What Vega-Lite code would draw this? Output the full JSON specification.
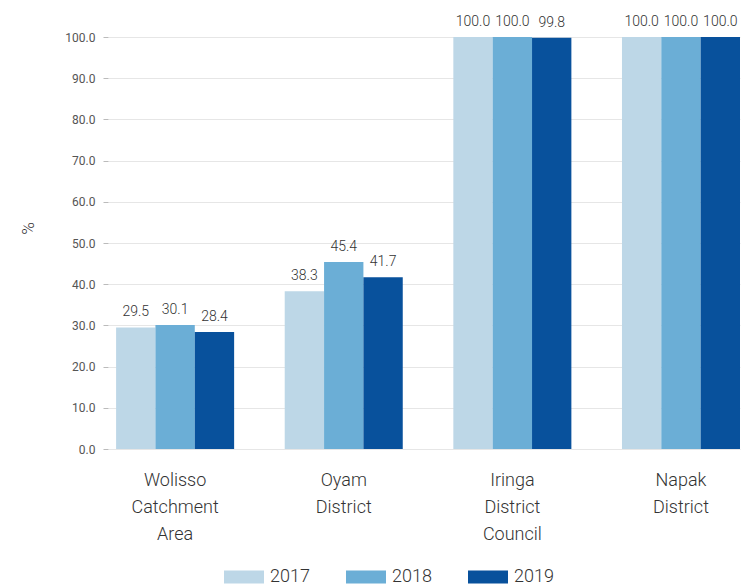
{
  "$schema": "https://vega.github.io/schema/vega-lite/v6.json",
  "width": 632,
  "height": 412,
  "autosize": {"type": "none"},
  "padding": {"left": 108, "top": 37, "right": 3, "bottom": 136},
  "background": "white",
  "config": {
    "view": {"stroke": null},
    "font": "Roboto"
  },
  "data": {
    "values": [
      {"area": "Wolisso|Catchment|Area", "year": "2017", "value": 29.5},
      {"area": "Wolisso|Catchment|Area", "year": "2018", "value": 30.1},
      {"area": "Wolisso|Catchment|Area", "year": "2019", "value": 28.4},
      {"area": "Oyam|District", "year": "2017", "value": 38.3},
      {"area": "Oyam|District", "year": "2018", "value": 45.4},
      {"area": "Oyam|District", "year": "2019", "value": 41.7},
      {"area": "Iringa|District|Council", "year": "2017", "value": 100.0},
      {"area": "Iringa|District|Council", "year": "2018", "value": 100.0},
      {"area": "Iringa|District|Council", "year": "2019", "value": 99.8},
      {"area": "Napak|District", "year": "2017", "value": 100.0},
      {"area": "Napak|District", "year": "2018", "value": 100.0},
      {"area": "Napak|District", "year": "2019", "value": 100.0}
    ]
  },
  "encoding": {
    "x": {
      "field": "area",
      "type": "nominal",
      "sort": null,
      "scale": {"paddingInner": 0.3, "paddingOuter": 0.024, "align": 1},
      "axis": {
        "title": null,
        "labelAngle": 0,
        "labelExpr": "split(datum.value, '|')",
        "labelFontSize": 18,
        "labelFontWeight": 300,
        "labelColor": "#333333",
        "labelLineHeight": 27,
        "labelPadding": 22,
        "labelBaseline": "top",
        "ticks": false,
        "domain": false,
        "grid": false
      }
    },
    "xOffset": {"field": "year", "type": "nominal"},
    "y": {
      "field": "value",
      "type": "quantitative",
      "scale": {"domain": [0, 100], "nice": false},
      "axis": {
        "title": "%",
        "titleFontSize": 17,
        "titleFontWeight": 300,
        "titleColor": "#333333",
        "titleAngle": -90,
        "titleAlign": "center",
        "titleBaseline": "middle",
        "titleX": -80,
        "titleY": 191,
        "format": ".1f",
        "values": [0, 10, 20, 30, 40, 50, 60, 70, 80, 90, 100],
        "labelFontSize": 12,
        "labelColor": "#555555",
        "labelPadding": 8,
        "tickSize": 5,
        "tickColor": "#bbbbbb",
        "domain": false,
        "gridColor": "#e6e6e6"
      }
    },
    "color": {
      "field": "year",
      "type": "nominal",
      "scale": {"range": ["#bdd7e7", "#6baed6", "#08519c"]},
      "legend": {
        "title": null,
        "orient": "none",
        "direction": "horizontal",
        "legendX": 126,
        "legendY": 530,
        "symbolType": "M-2,-0.65L2,-0.65L2,0.65L-2,0.65Z",
        "symbolSize": 400,
        "symbolStrokeWidth": 0,
        "labelFontSize": 18,
        "labelFontWeight": 300,
        "labelColor": "#333333",
        "labelOffset": 16,
        "columnPadding": 36
      }
    }
  },
  "layer": [
    {"mark": {"type": "bar"}},
    {
      "mark": {"type": "text", "baseline": "bottom", "dy": -8, "fontSize": 14, "fontWeight": 300},
      "encoding": {
        "text": {"field": "value", "type": "quantitative", "format": ".1f"},
        "color": {"value": "#333333"}
      }
    }
  ]
}
